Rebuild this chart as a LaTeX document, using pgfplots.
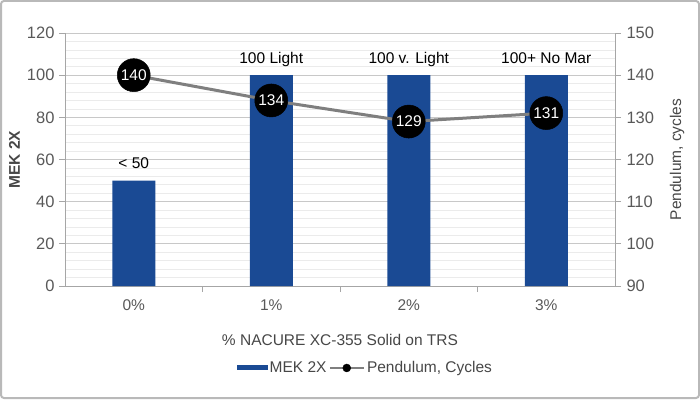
\documentclass[border=0pt]{standalone}
\usepackage{fontspec}
\setmainfont{Liberation Sans}
\usepackage{pgfplots}
\usepackage{pgfplotstable}
\pgfplotsset{compat=1.18}
\definecolor{mekblue}{HTML}{1A4A94}
\definecolor{ticktext}{HTML}{595959}
\definecolor{gridmaj}{HTML}{C8C8C8}
\definecolor{gridmin}{HTML}{EBEBEB}
\definecolor{linegray}{HTML}{7F7F7F}
\newcommand{\fs}{\fontsize{15.5}{17}\selectfont}
\newcommand{\ft}{\fontsize{16.5}{18}\selectfont}
\pgfplotstableread{
x y label
0 50 {< 50}
1 100 {100 Light}
2 100 {100 v. Light}
3 100 {100+ No Mar}
}\mekdata
\pgfplotstableread{
x y
0 140
1 134
2 129
3 131
}\penddata
\begin{document}
\begin{tikzpicture}[x=1pt,y=1pt]
\draw[gray!55, line width=2pt, rounded corners=3pt] (1,1) rectangle (699,398);
\begin{axis}[
  at={(65pt,113pt)}, anchor=south west,
  scale only axis, width=550pt, height=253pt,
  xmin=-0.5, xmax=3.5, ymin=0, ymax=120,
  axis x line*=bottom, axis y line*=left,
  axis line style={draw=gray!70, line width=0.8pt},
  xtick={0,1,2,3}, xticklabels={0\%,1\%,2\%,3\%},
  major x tick style={draw=none},
  minor xtick={0.5,1.5,2.5},
  minor x tick style={draw=gray!70, line width=0.8pt},
  ytick={0,20,...,120},
  minor y tick num=4,
  ymajorgrids, yminorgrids,
  major grid style={draw=gridmaj, line width=0.9pt},
  minor grid style={draw=gridmin, line width=0.7pt},
  major y tick style={draw=gray!70, line width=0.8pt},
  minor y tick style={draw=none},
  tick align=outside, major tick length=6pt, minor tick length=6pt,
  /pgf/number format/assume math mode=true,
  tick label style={font=\ft, text=ticktext},
  xticklabel style={yshift=-4pt, font=\fs},
  yticklabel style={xshift=-1pt},
  ylabel={\bfseries MEK 2X},
  ylabel style={at={(axis description cs:-0.092,0.5)}, anchor=center, font=\fs, text=ticktext!80!black},
  xlabel={\% NACURE XC-355 Solid on TRS},
  xlabel style={at={(axis description cs:0.5,-0.213)}, anchor=center, font=\fs, text=ticktext!80!black},
  legend style={at={(axis description cs:0.546,-0.324)}, anchor=center, draw=none, fill=none,
    font=\fs, text=ticktext!80!black, legend columns=2,
    /tikz/every even column/.append style={column sep=0pt}},
  legend cell align=left,
]
\addplot[ybar, bar width=43pt, fill=mekblue, draw=none,
  point meta=explicit symbolic,
  nodes near coords,
  every node near coord/.append style={anchor=base, yshift=12pt, font=\fs, text=black},
  legend image code/.code={\fill[mekblue] (0pt,-2.5pt) rectangle (31pt,2.5pt);}
] table[x=x, y=y, meta=label] {\mekdata};
\addlegendentry{MEK 2X}
\addlegendimage{legend image code/.code={\draw[linegray, line width=2.5pt] (0pt,0pt) -- (34pt,0pt); \fill[black] (17pt,0pt) circle (4pt);}}
\addlegendentry{Pendulum, Cycles}
\end{axis}
\begin{axis}[
  at={(65pt,113pt)}, anchor=south west,
  scale only axis, width=550pt, height=253pt,
  xmin=-0.5, xmax=3.5, ymin=90, ymax=150,
  axis x line=none, axis y line*=right,
  axis line style={draw=gray!70, line width=0.8pt},
  ytick={90,100,...,150},
  major y tick style={draw=gray!70, line width=0.8pt},
  tick align=outside, major tick length=6pt,
  /pgf/number format/assume math mode=true,
  tick label style={font=\ft, text=ticktext},
  yticklabel style={xshift=2pt},
  ylabel={Pendulum, cycles},
  ylabel style={at={(axis description cs:1.113,0.5)}, anchor=center, rotate=0, font=\fs, text=ticktext!80!black},
]
\addplot[linegray, line width=3pt, mark=*, mark size=16.5pt,
  mark options={fill=black, draw=black, line width=0.5pt},
  point meta=y,
  nodes near coords={\pgfmathprintnumber[fixed,precision=0]{\pgfplotspointmeta}},
  every node near coord/.append style={anchor=center, font=\fs, text=white},
] table[x=x, y=y] {\penddata};
\end{axis}
\end{tikzpicture}
\end{document}
